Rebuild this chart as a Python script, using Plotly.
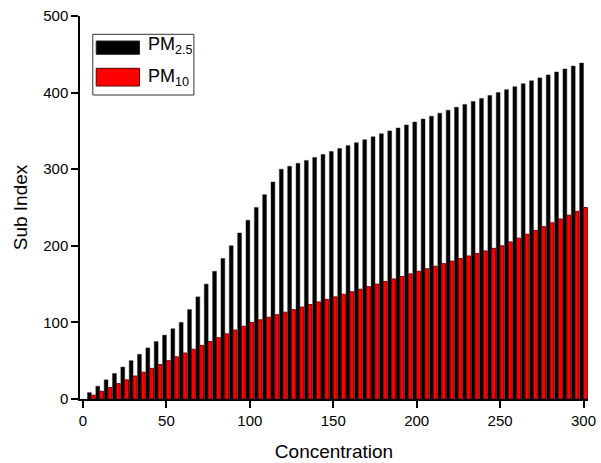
import plotly.graph_objects as go

# concentration values (x categories)
concentration = [5, 10, 15, 20, 25, 30, 35, 40, 45, 50, 55, 60, 65, 70, 75, 80, 85, 90, 95, 100,
                 105, 110, 115, 120, 125, 130, 135, 140, 145, 150, 155, 160, 165, 170, 175, 180, 185, 190, 195, 200,
                 205, 210, 215, 220, 225, 230, 235, 240, 245, 250, 255, 260, 265, 270, 275, 280, 285, 290, 295, 300]

pm25_index = [8.3, 16.7, 25.0, 33.3, 41.7, 50.0, 58.3, 66.7, 75.0, 83.3, 91.7, 100.0, 116.7, 133.3, 150.0,
              166.7, 183.3, 200.0, 216.7, 233.3, 250.0, 266.7, 283.3, 300.0, 303.8, 307.7, 311.5, 315.4, 319.2, 323.1,
              326.9, 330.8, 334.6, 338.5, 342.3, 346.2, 350.0, 353.8, 357.7, 361.5, 365.4, 369.2, 373.1, 376.9, 380.8,
              384.6, 388.5, 392.3, 396.2, 400.0, 403.8, 407.7, 411.5, 415.4, 419.2, 423.1, 426.9, 430.8, 434.6, 438.5]

pm10_index = [5, 10, 15, 20, 25, 30, 35, 40, 45, 50, 55, 60, 65, 70, 75, 80, 85, 90, 95, 100,
              103.3, 106.7, 110.0, 113.3, 116.7, 120.0, 123.3, 126.7, 130.0, 133.3, 136.7, 140.0, 143.3, 146.7, 150.0,
              153.3, 156.7, 160.0, 163.3, 166.7, 170.0, 173.3, 176.7, 180.0, 183.3, 186.7, 190.0, 193.3, 196.7, 200.0,
              205, 210, 215, 220, 225, 230, 235, 240, 245, 250]

FONT = "Arial, 'Liberation Sans', sans-serif"

fig = go.Figure()
fig.add_trace(go.Bar(x=concentration, y=pm25_index, name="PM2.5",
                     marker=dict(color="black", line=dict(color="#222222", width=0.5))))
fig.add_trace(go.Bar(x=concentration, y=pm10_index, name="PM10",
                     marker=dict(color="#ff0000", line=dict(color="#7a0000", width=1))))

# legend drawn by hand (large swatches like the original)
fig.add_shape(type="rect", xref="paper", yref="paper", x0=0.0252, x1=0.2242, y0=0.7937, y1=0.9522,
              line=dict(color="#333333", width=1), fillcolor="white")
fig.add_shape(type="rect", xref="paper", yref="paper", x0=0.0319, x1=0.1172, y0=0.900, y1=0.9347,
              line=dict(color="#222222", width=1), fillcolor="black")
fig.add_shape(type="rect", xref="paper", yref="paper", x0=0.0319, x1=0.1172, y0=0.8172, y1=0.8634,
              line=dict(color="#5a0000", width=1), fillcolor="#ff0000")
fig.add_annotation(xref="paper", yref="paper", x=0.1292, y=0.9217, xanchor="left", yanchor="middle",
                   text="PM<sub>2.5</sub>", showarrow=False, font=dict(size=18, color="black", family=FONT))
fig.add_annotation(xref="paper", yref="paper", x=0.1292, y=0.8407, xanchor="left", yanchor="middle",
                   text="PM<sub>10</sub>", showarrow=False, font=dict(size=18, color="black", family=FONT))

fig.update_layout(
    width=601, height=463,
    margin=dict(l=80, r=13, t=16, b=64),
    paper_bgcolor="white", plot_bgcolor="white",
    barmode="group", bargap=0.08, bargroupgap=0,
    showlegend=False,
    font=dict(family=FONT, size=15, color="black"),
)
fig.update_xaxes(range=[-1.8, 302.7], tickvals=[0, 50, 100, 150, 200, 250, 300], automargin=False,
                 showline=True, linecolor="black", linewidth=1.5, showgrid=False, zeroline=False,
                 ticks="outside", ticklen=7, tickwidth=1.5, tickcolor="black",
                 title=dict(text="Concentration", font=dict(size=19), standoff=17))
fig.update_yaxes(range=[0, 500], tickvals=[0, 100, 200, 300, 400, 500], automargin=False,
                 showline=True, linecolor="black", linewidth=1.5, showgrid=False, zeroline=False,
                 ticks="outside", ticklen=7, tickwidth=1.5, tickcolor="black",
                 title=dict(text="Sub Index", font=dict(size=19), standoff=11))

# drop the default 8px body margin so the figure fills the window
fig.write_html("out.html", config={"displayModeBar": False},
               post_script="document.body.style.margin='0';")
